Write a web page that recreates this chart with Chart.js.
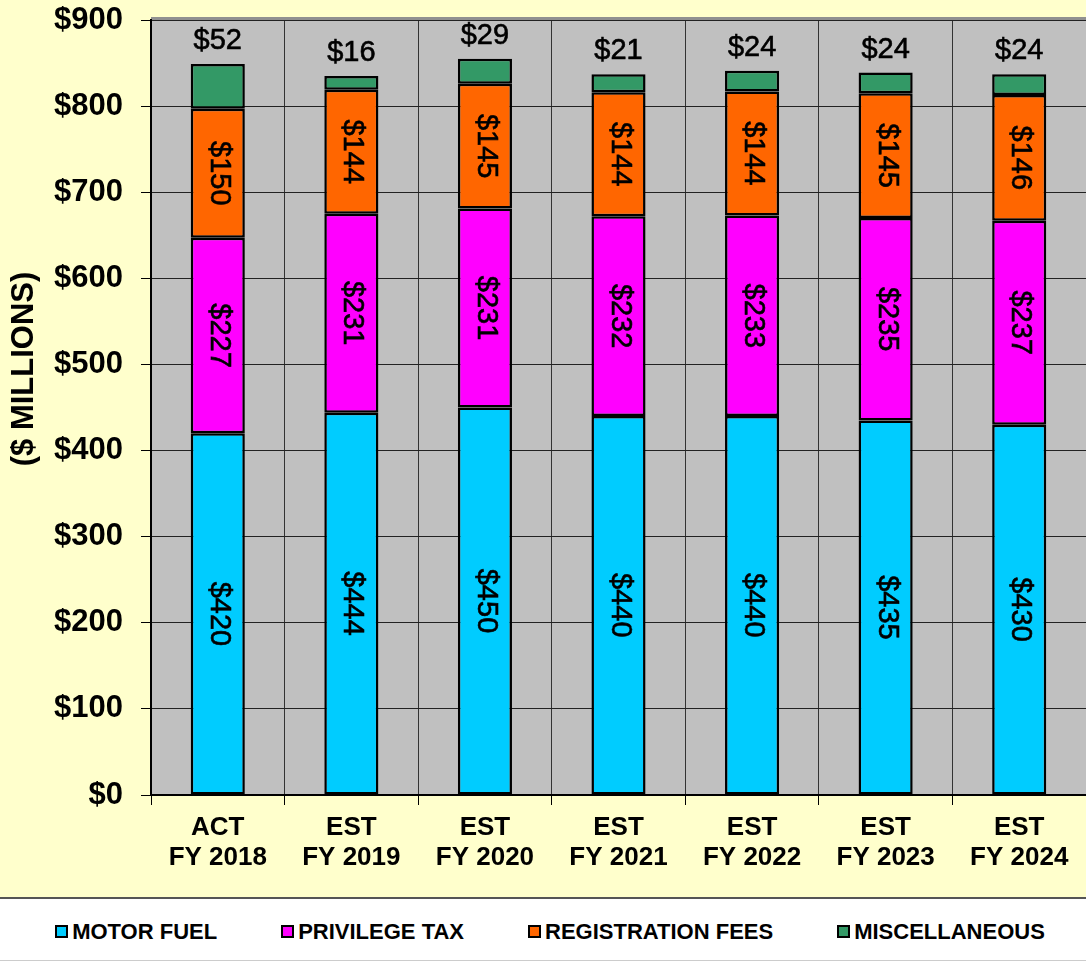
<!DOCTYPE html>
<html>
<head>
<meta charset="utf-8">
<script src="https://cdn.jsdelivr.net/npm/chart.js@4.4.0/dist/chart.umd.min.js"></script>
<style>
  body { margin: 0; background: #ffffff; font-family: "Liberation Sans", Arial, sans-serif; }
  #wrap { width: 1086px; height: 897px; background: #ffffcc; }
  #legend {
    width: 1086px; height: 64px; background: #ffffff;
    border-top: 2px solid #555555; border-bottom: 1px solid #cccccc;
    display: flex; align-items: center; justify-content: center; gap: 64px;
    font: bold 22px "Liberation Sans", Arial, sans-serif; color: #000;
    box-sizing: border-box; padding-left: 14px; padding-top: 4px;
  }
  .item { display: flex; align-items: center; }
  .box { width: 9px; height: 9px; border: 2px solid #000; margin-right: 4px; }
</style>
</head>
<body>
<div id="wrap"><canvas id="chart" width="1086" height="897"></canvas></div>
<div id="legend"></div>
<script>
// Revenue by source, $ millions
const categories = [['ACT', 'FY 2018'], ['EST', 'FY 2019'], ['EST', 'FY 2020'], ['EST', 'FY 2021'],
                    ['EST', 'FY 2022'], ['EST', 'FY 2023'], ['EST', 'FY 2024']];
const motorFuel = [420, 444, 450, 440, 440, 435, 430];
const privilegeTax = [227, 231, 231, 232, 233, 235, 237];
const registrationFees = [150, 144, 145, 144, 144, 145, 146];
const miscellaneous = [52, 16, 29, 21, 24, 24, 24];
const yTicks = [0, 100, 200, 300, 400, 500, 600, 700, 800, 900];
const yTitle = '($ MILLIONS)';

const series = [
  { label: 'MOTOR FUEL', data: motorFuel, color: '#00ccff' },
  { label: 'PRIVILEGE TAX', data: privilegeTax, color: '#ff00ff' },
  { label: 'REGISTRATION FEES', data: registrationFees, color: '#ff6600' },
  { label: 'MISCELLANEOUS', data: miscellaneous, color: '#339966' }
];

// gray plot area with a little shadow strip on top
const plotBackground = {
  id: 'plotBackground',
  beforeDraw: function(chart) {
    const a = chart.chartArea;
    const ctx = chart.ctx;
    ctx.save();
    ctx.fillStyle = '#c0c0c0';
    ctx.fillRect(a.left, a.top, a.right - a.left, a.bottom - a.top);
    ctx.fillStyle = '#909090';
    ctx.fillRect(a.left, a.top - 3, a.right - a.left, 3);
    ctx.restore();
  },
  // axis title sits a bit above the middle of the axis in the original
  afterDraw: function(chart) {
    const ctx = chart.ctx;
    ctx.save();
    ctx.fillStyle = '#000';
    ctx.font = 'bold 31px "Liberation Sans", Arial, sans-serif';
    ctx.textAlign = 'center';
    ctx.textBaseline = 'middle';
    ctx.translate(24, 369);
    ctx.rotate(-Math.PI / 2);
    ctx.fillText(yTitle, 0, 0);
    ctx.restore();
  }
};

// value labels: rotated inside the bars, horizontal above the top segment
const barLabels = {
  id: 'barLabels',
  afterDatasetsDraw: function(chart) {
    const ctx = chart.ctx;
    ctx.save();
    ctx.fillStyle = '#000';
    ctx.strokeStyle = '#000';
    ctx.lineWidth = 0.6;
    ctx.font = '29px "Liberation Sans", Arial, sans-serif';
    ctx.textAlign = 'center';
    ctx.textBaseline = 'middle';
    const draw = function(text, x, y) {
      ctx.fillText(text, x, y);
      ctx.strokeText(text, x, y);
    };
    chart.data.datasets.forEach(function(ds, i) {
      const meta = chart.getDatasetMeta(i);
      meta.data.forEach(function(bar, j) {
        const text = '$' + ds.data[j];
        if (i === chart.data.datasets.length - 1) {
          draw(text, bar.x, bar.y - 23);
        } else {
          ctx.save();
          ctx.translate(bar.x + 1, (bar.y + bar.base) / 2);
          ctx.rotate(Math.PI / 2);
          draw(text, 0, 0);
          ctx.restore();
        }
      });
    });
    ctx.restore();
  }
};

const chart = new Chart(document.getElementById('chart').getContext('2d'), {
  type: 'bar',
  data: {
    labels: categories,
    datasets: series.map(s => ({
      label: s.label,
      data: s.data,
      backgroundColor: s.color,
      borderColor: '#000',
      borderWidth: 2.5,
      borderSkipped: false,
      barPercentage: 0.405,
      categoryPercentage: 1
    }))
  },
  options: {
    responsive: false,
    animation: false,
    layout: { padding: { top: 20, right: 0, bottom: 0, left: 0 } },
    plugins: {
      legend: { display: false },
      tooltip: { enabled: false }
    },
    scales: {
      x: {
        stacked: true,
        afterFit: function(scale) { scale.height = 102; },
        grid: { color: '#333', lineWidth: 1, tickLength: 10, tickColor: '#000' },
        border: { color: '#000', width: 2 },
        ticks: {
          color: '#000',
          padding: 8,
          maxRotation: 0,
          font: { family: '"Liberation Sans", Arial, sans-serif', size: 26, weight: 'bold', lineHeight: 1.15 }
        }
      },
      y: {
        stacked: true,
        min: yTicks[0],
        max: yTicks[yTicks.length - 1],
        afterFit: function(scale) {
          scale.width = 151;
          scale.paddingTop = 0;
          scale.paddingBottom = 0;
        },
        afterBuildTicks: function(scale) { scale.ticks = yTicks.map(v => ({ value: v })); },
        grid: { color: '#222', lineWidth: 1, tickLength: 10, tickColor: '#000' },
        border: { color: '#000', width: 2 },
        ticks: {
          color: '#000',
          padding: 18,
          callback: v => '$' + v,
          font: { family: '"Liberation Sans", Arial, sans-serif', size: 31, weight: 'bold' }
        }
      }
    }
  },
  plugins: [plotBackground, barLabels]
});

// legend built from the same series
const legend = document.getElementById('legend');
series.forEach(function(s) {
  const item = document.createElement('div');
  item.className = 'item';
  const box = document.createElement('span');
  box.className = 'box';
  box.style.background = s.color;
  item.appendChild(box);
  item.appendChild(document.createTextNode(s.label));
  legend.appendChild(item);
});
</script>
</body>
</html>
